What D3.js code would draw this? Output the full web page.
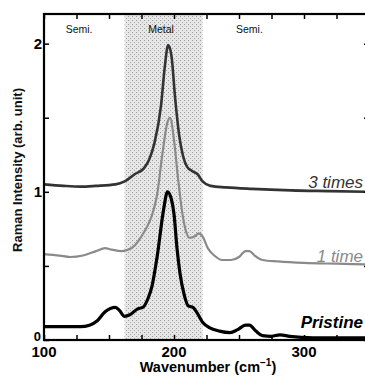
<!DOCTYPE html>
<html>
<head>
<meta charset="utf-8">
<script src="https://cdn.jsdelivr.net/npm/d3@7"></script>
<style>
  html, body { margin: 0; padding: 0; background: #fff; }
  svg { display: block; font-family: "Liberation Sans", Arial, sans-serif; }
</style>
</head>
<body>
<svg id="chart" width="365" height="381"></svg>
<script>
// ---------- data ----------
const pristineX = [100,112,128,135,141,147,155,158,162,166,172,176,180,183,187,192,195,198,200,202.3,204.6,208,211,214.6,218,222,228,235,243,249,255,258,263,268,275,281.5,289,307,328,350];
const pristineY = [0.09,0.09,0.09,0.10,0.13,0.19,0.22,0.20,0.16,0.17,0.21,0.22,0.28,0.36,0.56,0.88,1.00,0.95,0.85,0.62,0.45,0.30,0.23,0.22,0.18,0.12,0.08,0.06,0.05,0.07,0.10,0.10,0.06,0.03,0.025,0.035,0.025,0.015,0.015,0.015];

const oneTimeX = [100,112,120,130,140,147,152,160,165,170,175,179,183,187,191,195,197,200,203,206,209,212,216,219,222,226,231,237,244,250,255,258,262,268,280,300,325,350];
const oneTimeY = [0.58,0.57,0.56,0.57,0.60,0.62,0.61,0.60,0.61,0.64,0.70,0.76,0.84,0.98,1.25,1.47,1.50,1.35,1.10,0.88,0.74,0.69,0.70,0.72,0.70,0.62,0.57,0.54,0.54,0.56,0.60,0.60,0.57,0.54,0.53,0.52,0.515,0.51];

const threeTimesX = [100,115,128,140,155,162,170,177,181,185,190,193,195.5,198,201,204,207,210,214,218,222,228,240,260,290,320,350];
const threeTimesY = [1.05,1.04,1.035,1.04,1.05,1.07,1.12,1.16,1.22,1.33,1.58,1.85,1.99,1.92,1.62,1.38,1.24,1.17,1.14,1.12,1.07,1.04,1.03,1.02,1.01,1.005,1.0];

const metalRange = [162, 222];
const regionLabels = ["Semi.", "Metal", "Semi."];
const regionLabelX = [127, 190, 258];
const seriesNames = ["3 times", "1 time", "Pristine"];
const xTickLabels = [100, 200, 300];
const yTickLabels = [0, 1, 2];

// ---------- layout ----------
const svg = d3.select("#chart");
const mLeft = 44, mRight = 369, mTop = 14, mBottom = 340;
const x = d3.scaleLinear().domain([100, 350]).range([mLeft, mRight]);
const y = d3.scaleLinear().domain([0, 2.2]).range([mBottom, mTop]);

// shaded metal region (stippled)
const defs = svg.append("defs");
const pat = defs.append("pattern").attr("id", "stip").attr("patternUnits", "userSpaceOnUse")
  .attr("width", 4).attr("height", 4);
pat.append("rect").attr("width", 4).attr("height", 4).attr("fill", "#e6e6e6");
pat.append("rect").attr("x", 0).attr("y", 0).attr("width", 1).attr("height", 1).attr("fill", "#999");
pat.append("rect").attr("x", 2).attr("y", 2).attr("width", 1).attr("height", 1).attr("fill", "#aaa");

svg.append("rect")
  .attr("x", x(metalRange[0])).attr("y", mTop)
  .attr("width", x(metalRange[1]) - x(metalRange[0]))
  .attr("height", mBottom - mTop)
  .attr("fill", "url(#stip)");

// region labels
svg.selectAll("text.region").data(regionLabels).enter().append("text")
  .attr("class", "region")
  .attr("x", (d, i) => x(regionLabelX[i]))
  .attr("y", 33)
  .attr("text-anchor", "middle")
  .attr("font-size", 10.5)
  .attr("fill", "#111")
  .text(d => d);

// curves
const line = d3.line().x(d => x(d[0])).y(d => y(d[1])).curve(d3.curveMonotoneX);
const series = [
  { xs: threeTimesX, ys: threeTimesY, color: "#333", w: 2.6 },
  { xs: oneTimeX, ys: oneTimeY, color: "#8a8a8a", w: 2.2 },
  { xs: pristineX, ys: pristineY, color: "#000", w: 3.2 }
];
const clip = defs.append("clipPath").attr("id", "clip");
clip.append("rect").attr("x", mLeft).attr("y", mTop).attr("width", mRight - mLeft).attr("height", mBottom - mTop);
series.forEach(s => {
  svg.append("path")
    .datum(s.xs.map((v, i) => [v, s.ys[i]]))
    .attr("clip-path", "url(#clip)")
    .attr("fill", "none")
    .attr("stroke", s.color)
    .attr("stroke-width", s.w)
    .attr("stroke-linejoin", "round")
    .attr("d", line);
});

// series labels
const labelY = [188, 262, 328];
const labelColor = ["#333", "#8a8a8a", "#000"];
const labelWeight = ["normal", "normal", "bold"];
svg.selectAll("text.series").data(seriesNames).enter().append("text")
  .attr("class", "series")
  .attr("x", 363).attr("y", (d, i) => labelY[i])
  .attr("text-anchor", "end")
  .attr("font-size", 17)
  .attr("font-style", "italic")
  .attr("font-weight", (d, i) => labelWeight[i])
  .attr("fill", (d, i) => labelColor[i])
  .text(d => d);

// axes (inward ticks)
const xMinor = d3.range(100, 351, 25);
const yMinor = [0, 0.5, 1, 1.5, 2];
function styleAxis(g) {
  g.select(".domain").remove();
  g.selectAll("line").attr("stroke", "#000").attr("stroke-width", 1.5);
}
svg.append("g").attr("transform", `translate(0,${mBottom})`)
  .call(d3.axisBottom(x).tickValues(xMinor).tickSize(-5).tickFormat(""))
  .call(styleAxis);
svg.append("g").attr("transform", `translate(0,${mTop})`)
  .call(d3.axisTop(x).tickValues(xMinor).tickSize(-5).tickFormat(""))
  .call(styleAxis);
svg.append("g").attr("transform", `translate(${mLeft},0)`)
  .call(d3.axisLeft(y).tickValues(yMinor).tickSize(-5).tickFormat(""))
  .call(styleAxis);
svg.append("g").attr("transform", `translate(${mRight},0)`)
  .call(d3.axisRight(y).tickValues(yMinor).tickSize(-5).tickFormat(""))
  .call(styleAxis);

// frame
svg.append("rect").attr("x", mLeft).attr("y", mTop).attr("width", mRight - mLeft).attr("height", mBottom - mTop)
  .attr("fill", "none").attr("stroke", "#000").attr("stroke-width", 2.2);

// tick labels
svg.selectAll("text.xt").data(xTickLabels).enter().append("text")
  .attr("x", d => x(d)).attr("y", 357)
  .attr("text-anchor", "middle").attr("font-size", 15).attr("font-weight", "bold")
  .text(d => d);
svg.selectAll("text.yt").data(yTickLabels).enter().append("text")
  .attr("x", d => d === 0 ? 41 : 42).attr("y", d => y(d) + (d === 0 ? 1 : 5))
  .attr("text-anchor", "end").attr("font-size", d => d === 0 ? 13 : 15).attr("font-weight", "bold")
  .text(d => d);

// axis titles
const xt = svg.append("text").attr("x", 208).attr("y", 372).attr("text-anchor", "middle")
  .attr("font-size", 14.5).attr("font-weight", "bold");
xt.append("tspan").text("Wavenumber (cm");
xt.append("tspan").attr("font-size", 10).attr("dy", -6).text("−1");
xt.append("tspan").attr("dy", 6).text(")");

svg.append("text").attr("transform", "translate(22,170) rotate(-90)")
  .attr("text-anchor", "middle").attr("font-size", 13).attr("font-weight", "bold").attr("fill", "#111")
  .text("Raman Intensity (arb. unit)");
</script>
</body>
</html>
